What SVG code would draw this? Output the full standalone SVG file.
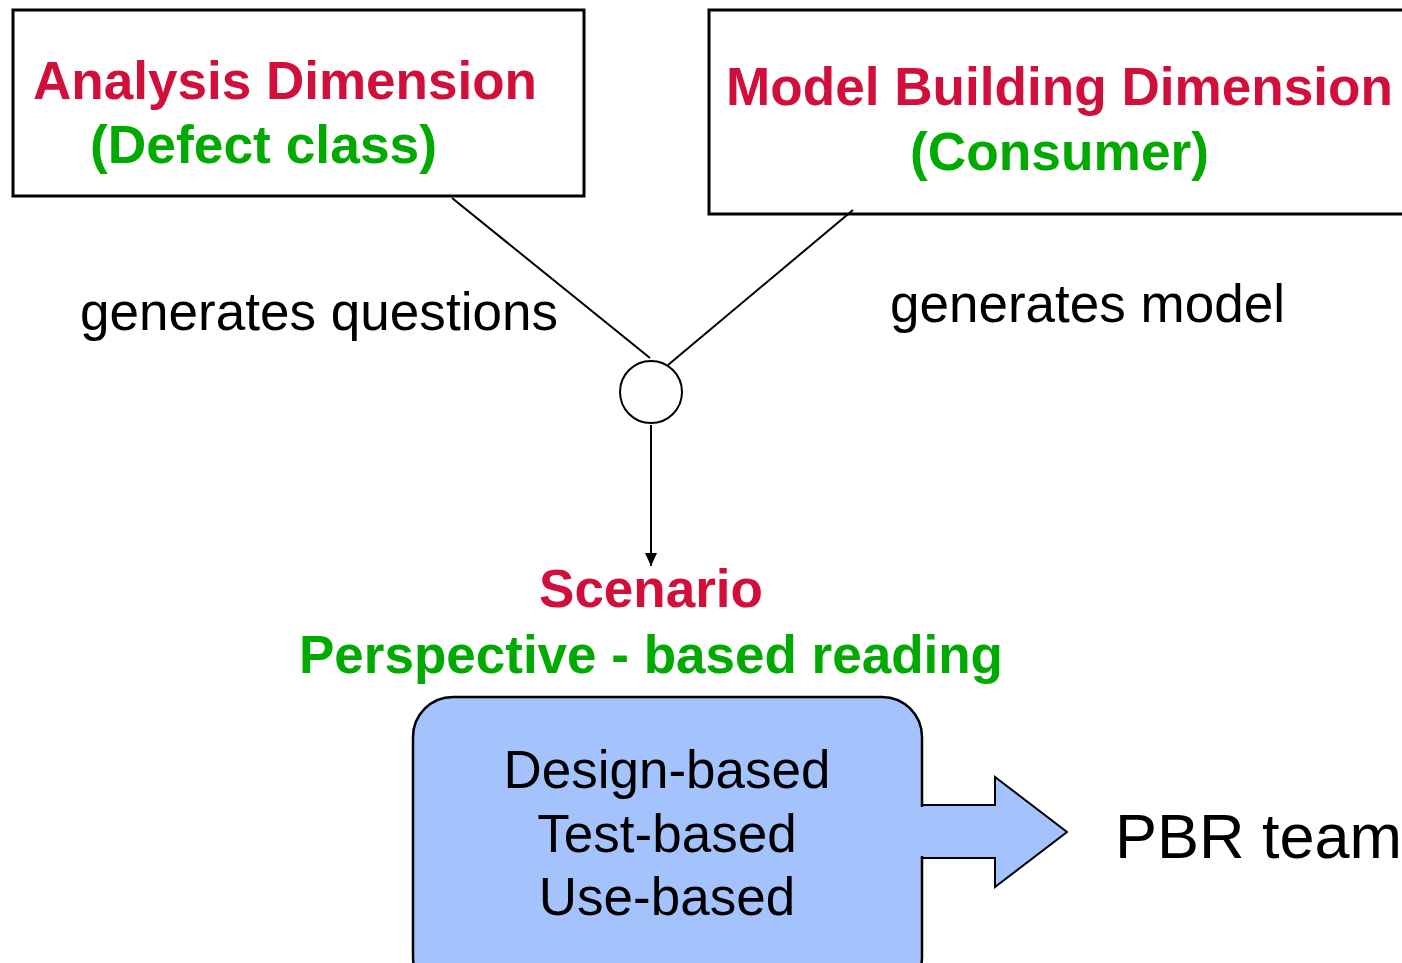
<svg xmlns="http://www.w3.org/2000/svg" width="1402" height="963" viewBox="0 0 1402 963">
<style>
.box{fill:#fff;stroke:#000;stroke-width:3}
.red{font-family:"Liberation Sans",Arial,sans-serif;font-weight:bold;font-size:53px;fill:#d0103a}
.green{font-family:"Liberation Sans",Arial,sans-serif;font-weight:bold;font-size:53px;fill:#00aa00}
.lbl{font-family:"Liberation Sans",Arial,sans-serif;font-size:53px;fill:#000}
.conn{stroke:#000;stroke-width:2;fill:none}
</style>
<defs>
<marker id="ah" markerWidth="14" markerHeight="14" refX="13" refY="6" orient="auto" markerUnits="userSpaceOnUse">
<path d="M0,0 L13,6 L0,12 Z" fill="#000"/>
</marker>
</defs>
<g id="analysis">
<rect class="box" x="13" y="10" width="571" height="186"/>
<text class="red" x="33" y="99" textLength="504" lengthAdjust="spacingAndGlyphs">Analysis Dimension</text>
<text class="green" x="90" y="163" textLength="347" lengthAdjust="spacingAndGlyphs">(Defect class)</text>
</g>
<g id="model">
<rect class="box" x="709" y="10" width="720" height="204"/>
<text class="red" x="726" y="105" textLength="667" lengthAdjust="spacingAndGlyphs">Model Building Dimension</text>
<text class="green" x="910" y="170" textLength="299" lengthAdjust="spacingAndGlyphs">(Consumer)</text>
</g>
<g id="junction">
<circle cx="651" cy="392" r="31" fill="#fff" stroke="#000" stroke-width="2"/>
</g>
<g id="connectors">
<line class="conn" x1="452" y1="198" x2="650" y2="358"/>
<line class="conn" x1="853" y1="210" x2="668" y2="365"/>
<line class="conn" x1="651" y1="425" x2="651" y2="566" stroke-width="2.5" marker-end="url(#ah)"/>
<text class="lbl" x="80" y="330" textLength="478" lengthAdjust="spacingAndGlyphs">generates questions</text>
<text class="lbl" x="890" y="322" textLength="395" lengthAdjust="spacingAndGlyphs">generates model</text>
</g>
<g id="scenario">
<text class="red" x="651" y="607" text-anchor="middle">Scenario</text>
<text class="green" x="651" y="673" text-anchor="middle">Perspective - based reading</text>
</g>
<g id="readings">
<path d="M922,805 L995,805 L995,777 L1067,832 L995,887 L995,858 L922,858 Z" fill="#a4c2fc" stroke="#000" stroke-width="2"/>
<rect x="413" y="697" width="509" height="300" rx="40" ry="40" fill="#a4c2fc" stroke="#000" stroke-width="2.5"/>
<rect x="915" y="807" width="12" height="49" fill="#a4c2fc"/>
<text class="lbl" x="667" y="788" text-anchor="middle" textLength="327" lengthAdjust="spacingAndGlyphs">Design-based</text>
<text class="lbl" x="667" y="852" text-anchor="middle">Test-based</text>
<text class="lbl" x="667" y="915" text-anchor="middle">Use-based</text>
</g>
<g id="pbr">
<text x="1115" y="858" font-family="'Liberation Sans',Arial,sans-serif" font-size="63px" fill="#000">PBR team</text>
</g>
</svg>
